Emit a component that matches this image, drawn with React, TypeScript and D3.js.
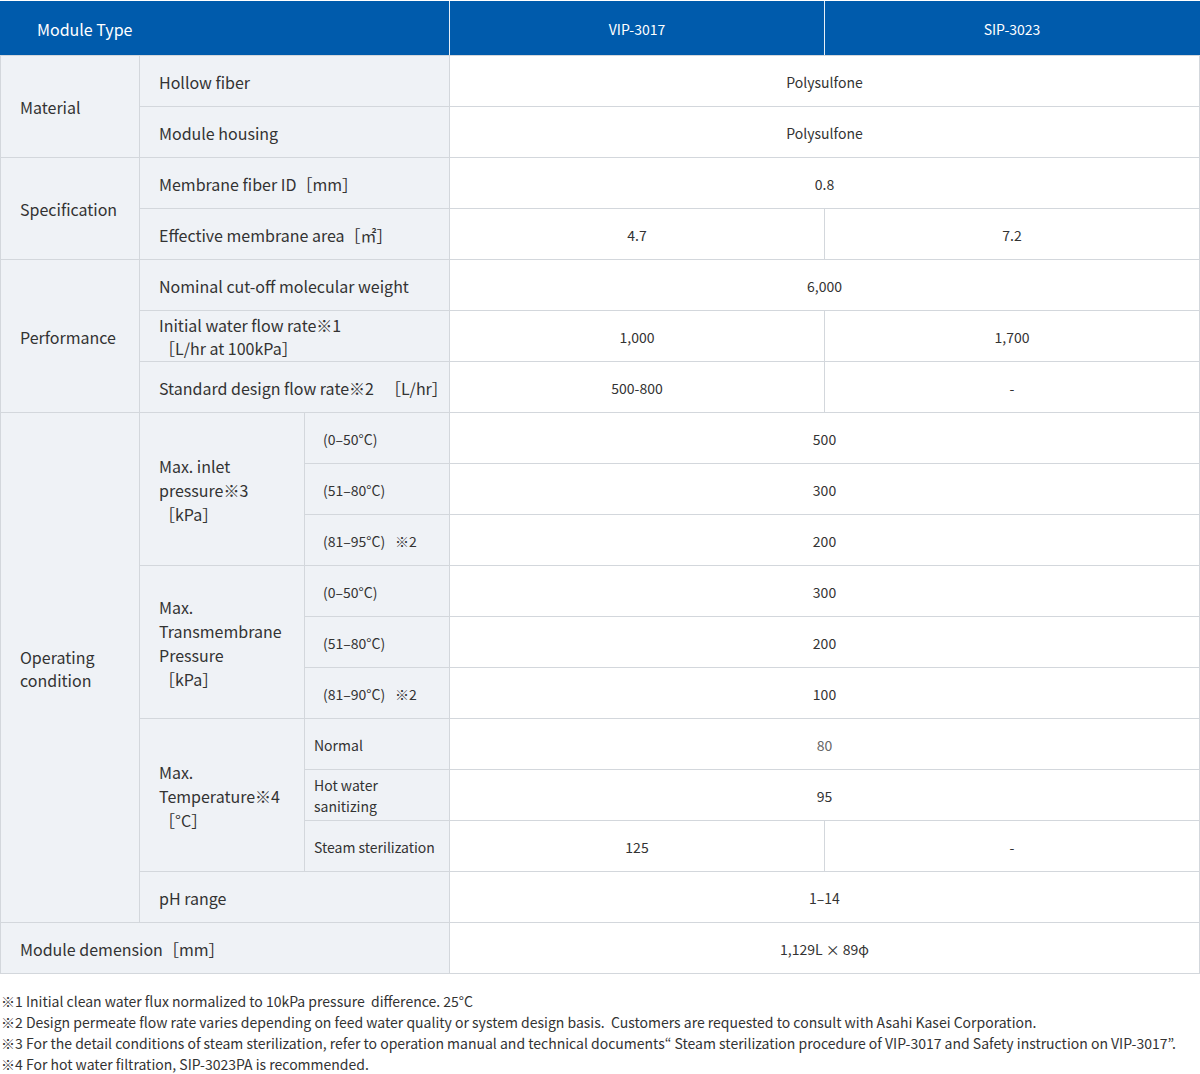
import React from "react";
import * as d3 from "d3";

const headerLabels = ["Module Type", "VIP-3017", "SIP-3023"];
const groupLabels = [["Material"], ["Specification"], ["Performance"], ["Operating", "condition"]];
const groupSpans = [2, 2, 3, 10];
const itemLabels = [
  ["Hollow fiber"],
  ["Module housing"],
  ["Membrane fiber ID［mm］"],
  ["Effective membrane area［㎡］"],
  ["Nominal cut-off molecular weight"],
  ["Initial water flow rate※1", "［L/hr at 100kPa］"],
  ["Standard design flow rate※2　［L/hr］"],
  ["Max. inlet", "pressure※3", "［kPa］"],
  ["Max.", "Transmembrane", "Pressure", "［kPa］"],
  ["Max.", "Temperature※4", "［°C］"],
  ["pH range"],
];
const itemSpans = [1, 1, 1, 1, 1, 1, 1, 3, 3, 3, 1];
const subLabels = [
  ["(0–50°C)"], ["(51–80°C)"], ["(81–95°C)\u2002\u2009※2"],
  ["(0–50°C)"], ["(51–80°C)"], ["(81–90°C)\u2002\u2009※2"],
  ["Normal"], ["Hot water", "sanitizing"], ["Steam sterilization"],
];
const dimensionLabel = "Module demension［mm］";
const vip3017 = ["Polysulfone", "Polysulfone", "0.8", "4.7", "6,000", "1,000", "500-800", "500", "300", "200", "300", "200", "100", "80", "95", "125", "1–14", "1,129L × 89φ"];
const sip3023 = ["Polysulfone", "Polysulfone", "0.8", "7.2", "6,000", "1,700", "-", "500", "300", "200", "300", "200", "100", "80", "95", "-", "1–14", "1,129L × 89φ"];
const footnotes = [
  "※1 Initial clean water flux normalized to 10kPa pressure  difference. 25°C",
  "※2 Design permeate flow rate varies depending on feed water quality or system design basis.  Customers are requested to consult with Asahi Kasei Corporation.",
  "※3 For the detail conditions of steam sterilization, refer to operation manual and technical documents“ Steam sterilization procedure of VIP-3017 and Safety instruction on VIP-3017”.",
  "※4 For hot water filtration, SIP-3023PA is recommended.",
];

const FONT = "'Noto Sans CJK JP', 'Noto Sans', sans-serif";
const BLUE = "#005bac";
const GRID = "#d3d7dc";
const LABEL_BG = "#eff2f6";
const TEXT = "#333333";

const colX = [0, 139, 304, 449, 824, 1199];

function renderLine(ln: string) {
  const idx = ln.indexOf("　");
  if (idx < 0) return ln;
  return (
    <>
      {ln.slice(0, idx)}
      <tspan dx={3}>{ln.slice(idx)}</tspan>
    </>
  );
}

export default function App() {
  const nRows = vip3017.length;
  const y = d3.scaleLinear().domain([0, nRows]).range([55, 973]);

  const cells: any[] = [];
  let r = 0;
  groupLabels.forEach((g, i) => {
    cells.push({ x0: colX[0], x1: colX[1], r0: r, r1: r + groupSpans[i], lines: g, tx: 20, size: 16, lh: 23, bg: LABEL_BG, anchor: "start" });
    r += groupSpans[i];
  });
  cells.push({ x0: colX[0], x1: colX[3], r0: r, r1: r + 1, lines: [dimensionLabel], tx: 20, size: 16, lh: 23, bg: LABEL_BG, anchor: "start" });
  r = 0;
  let s = 0;
  itemLabels.forEach((lines, i) => {
    const span = itemSpans[i];
    const x1 = span > 1 ? colX[2] : colX[3];
    cells.push({ x0: colX[1], x1, r0: r, r1: r + span, lines, tx: 159, size: 16, lh: lines.length > 2 ? 24 : 23, bg: LABEL_BG, anchor: "start" });
    if (span > 1) {
      for (let k = 0; k < span; k++) {
        const sl = subLabels[s];
        const isTemp = s >= 6;
        cells.push({ x0: colX[2], x1: colX[3], r0: r + k, r1: r + k + 1, lines: sl, tx: isTemp ? 314 : 323, size: 14, lh: 21, bg: LABEL_BG, anchor: "start" });
        s++;
      }
    }
    r += span;
  });
  for (let i = 0; i < nRows; i++) {
    if (vip3017[i] === sip3023[i]) {
      cells.push({ x0: colX[3], x1: colX[5], r0: i, r1: i + 1, lines: [vip3017[i]], size: 14, lh: 20, bg: "#ffffff", anchor: "middle", color: vip3017[i] === "80" ? "#666" : TEXT });
    } else {
      cells.push({ x0: colX[3], x1: colX[4], r0: i, r1: i + 1, lines: [vip3017[i]], size: 14, lh: 20, bg: "#ffffff", anchor: "middle" });
      cells.push({ x0: colX[4], x1: colX[5], r0: i, r1: i + 1, lines: [sip3023[i]], size: 14, lh: 20, bg: "#ffffff", anchor: "middle" });
    }
  }

  return (
    <svg width={1200} height={1074} style={{ position: "absolute", left: 0, top: 0, background: "#fff" }} fontFamily={FONT}>
      <rect x={0} y={1} width={1200} height={54} fill={BLUE} />
      <line x1={colX[3] + 0.5} x2={colX[3] + 0.5} y1={1} y2={55} stroke="#ffffff" strokeOpacity={0.9} />
      <line x1={colX[4] + 0.5} x2={colX[4] + 0.5} y1={1} y2={55} stroke="#ffffff" strokeOpacity={0.9} />
      <text x={37} y={29} dominantBaseline="central" fill="#fff" fontSize={16}>{headerLabels[0]}</text>
      <text x={(colX[3] + colX[4]) / 2 + 0.5} y={29} dominantBaseline="central" textAnchor="middle" fill="#fff" fontSize={14}>{headerLabels[1]}</text>
      <text x={(colX[4] + colX[5]) / 2 + 0.5} y={29} dominantBaseline="central" textAnchor="middle" fill="#fff" fontSize={14}>{headerLabels[2]}</text>
      {cells.map((c, i) => {
        const top = y(c.r0);
        const bot = y(c.r1);
        const cy = (top + bot) / 2 + 1;
        const n = c.lines.length;
        const tx = c.anchor === "middle" ? (c.x0 + c.x1) / 2 + 0.5 : c.tx;
        return (
          <g key={i}>
            <rect x={c.x0 + 0.5} y={top + 0.5} width={c.x1 - c.x0} height={bot - top} fill={c.bg} stroke={GRID} strokeWidth={1} />
            {c.lines.map((ln: string, j: number) => (
              <text key={j} x={tx} y={cy + (j - (n - 1) / 2) * c.lh} dominantBaseline="central" textAnchor={c.anchor} fontSize={c.size} fill={c.color || TEXT} style={{ whiteSpace: "pre" }}>{renderLine(ln)}</text>
            ))}
          </g>
        );
      })}
      {footnotes.map((f, i) => (
        <text key={i} x={1} y={1001 + i * 21} dominantBaseline="central" fontSize={14} fill={TEXT} style={{ whiteSpace: "pre" }}>{f}</text>
      ))}
    </svg>
  );
}
